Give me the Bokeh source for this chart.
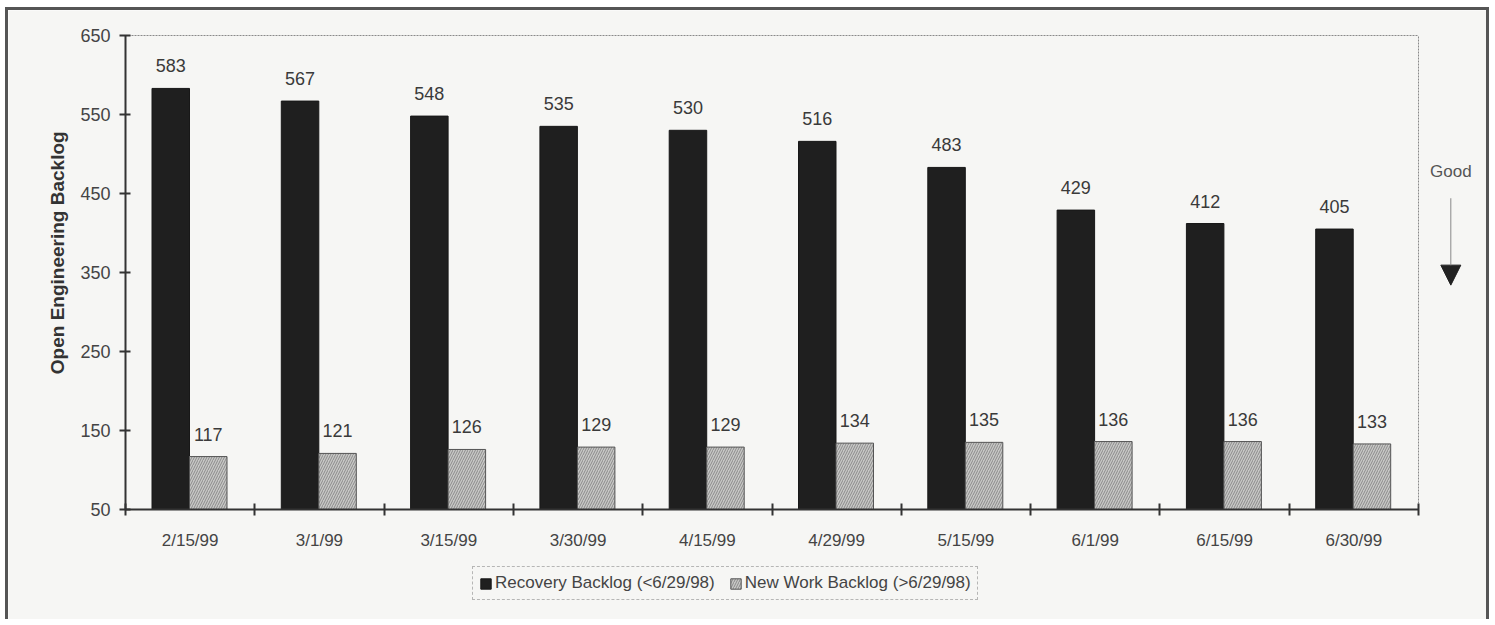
import numpy as np
from bokeh.plotting import figure
from bokeh.models import (ColumnDataSource, FixedTicker, Range1d, Legend, LegendItem,
                          Label, Arrow, NormalHead, LabelSet)
from bokeh.core.properties import value
from bokeh.embed import file_html
from bokeh.resources import INLINE

dates = ["2/15/99", "3/1/99", "3/15/99", "3/30/99", "4/15/99",
         "4/29/99", "5/15/99", "6/1/99", "6/15/99", "6/30/99"]
recovery = [583, 567, 548, 535, 530, 516, 483, 429, 412, 405]
new_work = [117, 121, 126, 129, 129, 134, 135, 136, 136, 133]
series_names = ["Recovery Backlog (<6/29/98)", "New Work Backlog (>6/29/98)"]
y_ticks = [50, 150, 250, 350, 450, 550, 650]
y_title = "Open Engineering Backlog"
good_text = "Good"

FONT = "Liberation Sans"
n = len(dates)
centers = np.arange(n) + 0.5
bw = 0.29
y0, y1 = y_ticks[0], y_ticks[-1]

# layout constants (pixels)
W, H = 1484, 612
CAT_PX = 129.3                 # width of one category
PX = 474 / (y1 - y0)           # pixels per unit on the y axis
LEFT, TOP, BOTTOM = 117, 25, 113

src = ColumnDataSource(dict(
    xr=centers - bw / 2 - 0.005, xn=centers + bw / 2 - 0.005,
    rec=recovery, nw=new_work,
    rec_lbl=[str(v) for v in recovery], nw_lbl=[str(v) for v in new_work],
))

BG = "#f6f6f4"
p = figure(width=W, height=H, output_backend="svg", toolbar_location=None,
           x_range=Range1d(-LEFT / CAT_PX, (W - LEFT) / CAT_PX),
           y_range=Range1d(y0 - BOTTOM / PX, y1 + TOP / PX),
           min_border_left=0, min_border_right=0, min_border_top=0, min_border_bottom=0)
p.styles = {"border-top": "3px solid #555", "border-left": "3px solid #555",
            "border-right": "3px solid #555", "margin-left": "5px", "margin-top": "7px"}

p.background_fill_color = BG
p.border_fill_color = BG
p.outline_line_color = None
p.grid.visible = False

# plot-area box (top and right edges)
p.segment(x0=[0, n], y0=[y1, y0], x1=[n, n], y1=[y1, y1],
          line_color="#8a8a8a", line_width=1, line_dash="2 1")

r1 = p.vbar(x="xr", top="rec", bottom=y0, width=bw, source=src,
            fill_color="#1f1f1f", line_color="#181818", line_width=1)
r2 = p.vbar(x="xn", top="nw", bottom=y0, width=bw, source=src,
            fill_color="#c8c8c6", line_color="#555555", line_width=1,
            hatch_pattern="/", hatch_color="#8a8a8a", hatch_scale=5, hatch_weight=1)

for xcol, ycol, tcol in (("xr", "rec", "rec_lbl"), ("xn", "nw", "nw_lbl")):
    p.add_layout(LabelSet(x=xcol, y=ycol, text=tcol, source=src, y_offset=16,
                          text_align="center", text_baseline="bottom",
                          text_font=value(FONT), text_font_size="18px",
                          text_color="#3a3a3a"))

# axes
xa = p.xaxis[0]
xa.fixed_location = y0
xa.bounds = (0, n)
xa.ticker = FixedTicker(ticks=list(centers), minor_ticks=list(range(n + 1)))
xa.major_label_overrides = {float(c): d for c, d in zip(centers, dates)}
xa.major_tick_in = 0
xa.major_tick_out = 0
xa.minor_tick_in = 6
xa.minor_tick_out = 6
xa.minor_tick_line_color = "#333333"
xa.minor_tick_line_width = 2
xa.axis_line_color = "#333333"
xa.axis_line_width = 2
xa.major_label_standoff = 15
xa.major_label_text_font = FONT
xa.major_label_text_font_size = "17px"
xa.major_label_text_color = "#444444"

ya = p.yaxis[0]
ya.fixed_location = 0
ya.bounds = (y0, y1)
ya.ticker = FixedTicker(ticks=y_ticks, minor_ticks=[])
ya.major_tick_in = 5
ya.major_tick_out = 6
ya.major_tick_line_color = "#333333"
ya.major_tick_line_width = 2
ya.axis_line_color = "#333333"
ya.axis_line_width = 2
ya.major_label_standoff = 9
ya.major_label_text_font = FONT
ya.major_label_text_font_size = "18px"
ya.major_label_text_color = "#444444"

# y-axis title
p.add_layout(Label(x=-(125 - 57) / CAT_PX, y=375, text=y_title, angle=np.pi / 2,
                   text_align="center", text_baseline="middle", text_font=FONT,
                   text_font_size="19px", text_font_style="bold", text_color="#333333"))

# "Good" arrow
p.add_layout(Label(x=n + 0.25, y=478, text=good_text, text_align="center",
                   text_baseline="middle", text_font=FONT, text_font_size="17px",
                   text_color="#555555"))
p.add_layout(Arrow(x_start=n + 0.25, y_start=444, x_end=n + 0.25, y_end=334,
                   line_color="#888888", line_width=1,
                   end=NormalHead(size=20, fill_color="#222222", line_color="#222222")))

legend = Legend(items=[LegendItem(label=series_names[0], renderers=[r1]),
                       LegendItem(label=series_names[1], renderers=[r2])],
                orientation="horizontal", location=(464, 22),
                label_text_font=FONT, label_text_font_size="17px",
                label_text_color="#444444", glyph_width=13, glyph_height=13,
                spacing=14, label_standoff=3, padding=6, margin=0,
                border_line_color="#777777", border_line_dash="2 1",
                background_fill_color=BG, background_fill_alpha=1)
p.add_layout(legend, "center")

open("out.html", "w").write(file_html(p, INLINE))
